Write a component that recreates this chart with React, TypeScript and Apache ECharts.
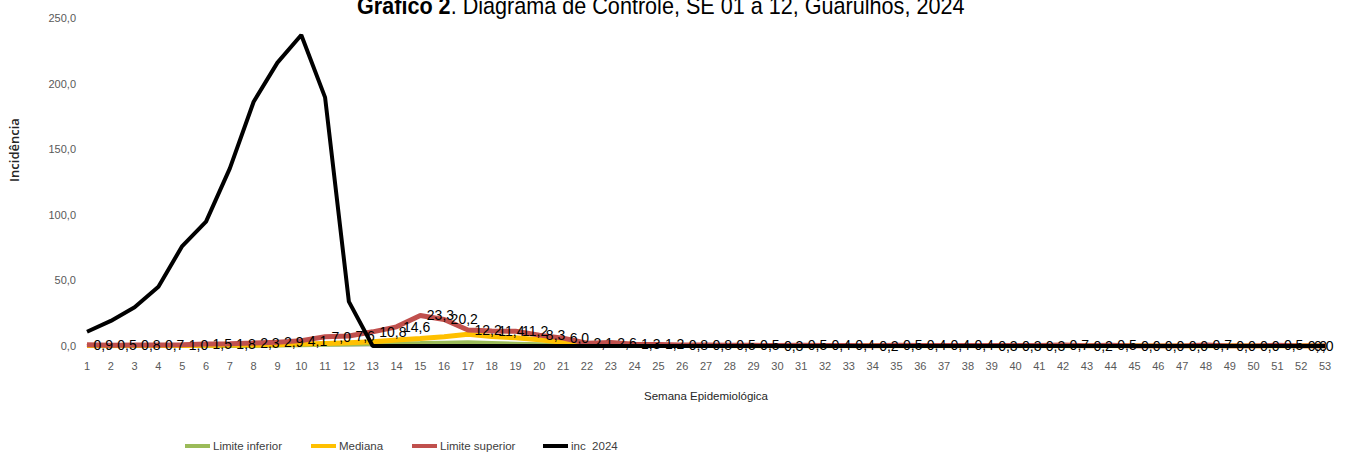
import React, { useEffect, useRef } from "react";
import * as echarts from "echarts";

const weeks: string[] = Array.from({ length: 53 }, (_, i) => String(i + 1));

const limiteInferior: number[] = [
  0, 0, 0, 0, 0, 0, 0, 0, 0.3, 0.6, 0.9, 1.2, 1.5, 2.0, 2.2, 2.5, 2.8, 2.3, 1.8, 1.3,
  0.6, 0.2, 0, 0, 0, 0, 0, 0, 0, 0, 0, 0, 0, 0, 0, 0, 0, 0, 0, 0,
  0, 0, 0, 0, 0, 0, 0, 0, 0, 0, 0, 0, 0,
];

const mediana: number[] = [
  0.3, 0.2, 0.3, 0.3, 0.4, 0.5, 0.7, 0.8, 1.0, 1.5, 2.0, 2.5, 3.3, 4.6, 5.8, 7.1, 8.9, 7.2, 6.2, 4.7,
  2.8, 1.2, 0.8, 0.5, 0.4, 0.3, 0.3, 0.2, 0.2, 0.1, 0.1, 0.2, 0.1, 0.1, 0.1, 0.2, 0.1, 0.1, 0.1, 0.1,
  0.1, 0.1, 0.2, 0.1, 0.1, 0, 0, 0, 0.2, 0, 0, 0.1, 0,
];

const limiteSuperior: number[] = [
  0.9, 0.5, 0.8, 0.7, 1.0, 1.5, 1.8, 2.3, 2.9, 4.1, 7.0, 7.6, 10.8, 14.6, 23.3, 20.2, 12.2, 11.4, 11.2, 8.3,
  6.0, 2.1, 2.6, 1.3, 1.2, 0.8, 0.8, 0.5, 0.5, 0.3, 0.5, 0.4, 0.4, 0.2, 0.5, 0.4, 0.4, 0.4, 0.3, 0.3,
  0.3, 0.7, 0.2, 0.5, 0.0, 0.0, 0.0, 0.7, 0.0, 0.0, 0.5, 0.0, 0.0,
];

const inc2024: number[] = [
  10.9, 19.1, 29.5, 45.2, 76.2, 94.8, 135.4, 186.2, 216.0, 237.0, 189.5, 33.8, 0, 0, 0, 0, 0, 0, 0, 0,
  0, 0, 0, 0, 0, 0, 0, 0, 0, 0, 0, 0, 0, 0, 0, 0, 0, 0, 0, 0,
  0, 0, 0, 0, 0, 0, 0, 0, 0, 0, 0, 0, 0,
];

const seriesNames = ["Limite inferior", "Mediana", "Limite superior", "inc  2024"];
const seriesColors = ["#9BBB59", "#FFC000", "#C0504D", "#000000"];

const titleBold = "Gráfico 2";
const titleRest = ". Diagrama de Controle, SE 01 a 12, Guarulhos, 2024";

const FONT = "'Liberation Sans', Arial, sans-serif";

const fmt = (v: number) => v.toFixed(1).replace(".", ",");

export default function App() {
  const ref = useRef<HTMLDivElement>(null);

  useEffect(() => {
    if (!ref.current) return;
    const chart = echarts.init(ref.current, null, { renderer: "svg" });

    const supData = limiteSuperior.map((v, i) =>
      i === limiteSuperior.length - 1
        ? { value: v, label: { position: "left", distance: -9 } }
        : v
    );

    const legendLefts = [185, 311, 412, 543];

    const option: any = {
      animation: false,
      backgroundColor: "#ffffff",
      textStyle: { fontFamily: FONT },
      grid: { left: 87, right: 26, top: 18, bottom: 108, containLabel: false },
      legend: seriesNames.map((n, i) => ({
        left: legendLefts[i],
        top: 440,
        padding: 0,
        itemWidth: 25,
        itemHeight: 4,
        icon: "rect",
        data: [n],
        textStyle: { fontFamily: FONT, fontSize: 11.5, color: "#404040", padding: [0, 0, 0, -2] },
      })),
      xAxis: {
        type: "category",
        data: weeks,
        boundaryGap: false,
        axisLine: { show: true, lineStyle: { color: "#d9d9d9" } },
        axisTick: { show: false },
        axisLabel: { fontFamily: FONT, fontSize: 11, color: "#595959", margin: 14, interval: 0 },
        name: "Semana Epidemiológica",
        nameLocation: "middle",
        nameGap: 44,
        nameTextStyle: { fontFamily: FONT, fontSize: 11.5, color: "#262626" },
      },
      yAxis: {
        type: "value",
        min: 0,
        max: 250,
        interval: 50,
        splitLine: { show: false },
        axisLine: { show: false },
        axisTick: { show: false },
        axisLabel: { fontFamily: FONT, fontSize: 11, color: "#595959", margin: 11, formatter: (v: number) => fmt(v) },
      },
      graphic: [
        {
          type: "text",
          x: 357,
          y: -6,
          scaleX: 0.9,
          style: {
            text: "{b|" + titleBold + "}{n|" + titleRest + "}",
            verticalAlign: "top",
            rich: {
              b: { fontFamily: FONT, fontSize: 24, fontWeight: "bold", fill: "#000" },
              n: { fontFamily: FONT, fontSize: 24, fontWeight: "normal", fill: "#000" },
            },
          },
        },
        {
          type: "text",
          x: 14,
          y: 150,
          rotation: Math.PI / 2,
          style: {
            text: "Incidência",
            fontFamily: "'Open Sans', sans-serif",
            fontSize: 13,
            fontWeight: 600,
            fill: "#262626",
            align: "center",
            verticalAlign: "middle",
          },
        },
      ],
      series: [
        {
          name: seriesNames[0],
          type: "line",
          data: limiteInferior,
          showSymbol: false,
          lineStyle: { color: seriesColors[0], width: 4 },
          itemStyle: { color: seriesColors[0] },
          z: 2,
        },
        {
          name: seriesNames[1],
          type: "line",
          data: mediana,
          showSymbol: false,
          lineStyle: { color: seriesColors[1], width: 5 },
          itemStyle: { color: seriesColors[1] },
          z: 3,
        },
        {
          name: seriesNames[2],
          type: "line",
          data: supData,
          symbol: "circle",
          symbolSize: 1,
          showSymbol: true,
          showAllSymbol: true,
          lineStyle: { color: seriesColors[2], width: 5 },
          itemStyle: { color: seriesColors[2] },
          label: {
            show: true,
            position: "right",
            distance: 6,
            fontFamily: FONT,
            fontSize: 14,
            color: "#000",
            formatter: (p: any) => fmt(Number(p.value)),
          },
          labelLayout: { hideOverlap: false },
          z: 4,
        },
        {
          name: seriesNames[3],
          type: "line",
          data: inc2024,
          showSymbol: false,
          lineStyle: { color: seriesColors[3], width: 4 },
          itemStyle: { color: seriesColors[3] },
          z: 5,
        },
      ],
    };

    chart.setOption(option);
    return () => chart.dispose();
  }, []);

  return (
    <div
      ref={ref}
      style={{ position: "fixed", left: 0, top: 0, width: 1351, height: 454, background: "#fff" }}
    />
  );
}
